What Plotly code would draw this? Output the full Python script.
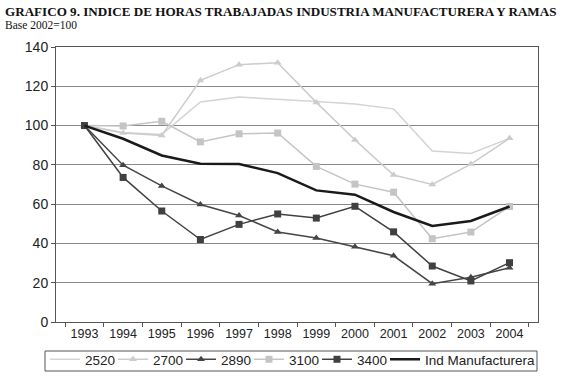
import plotly.graph_objects as go

years = ["1993", "1994", "1995", "1996", "1997", "1998", "1999", "2000", "2001", "2002", "2003", "2004"]
s2520 = [100, 96.5, 95.5, 112, 114.5, 113.5, 112.3, 111, 108.5, 87, 85.8, 93.5]
s2700 = [100, 96.2, 95, 123, 131, 132, 111.8, 92.7, 74.8, 70, 80.4, 93.5]
s2890 = [100, 79.8, 69.3, 59.8, 54.2, 45.8, 42.8, 38.3, 33.7, 19.5, 22.8, 27.6]
s3100 = [100, 99.8, 102.2, 91.7, 95.8, 96.2, 79.2, 70.2, 66.1, 42.4, 45.8, 58.8]
s3400 = [100, 73.6, 56.5, 42, 49.7, 55, 52.9, 58.9, 45.9, 28.5, 20.9, 30.2]
ind = [100, 93.3, 84.8, 80.6, 80.4, 75.8, 67, 64.8, 56, 48.9, 51.4, 58.8]

title = "GRAFICO 9. INDICE DE HORAS TRABAJADAS INDUSTRIA MANUFACTURERA Y RAMAS"
subtitle = "Base 2002=100"

# layout helpers (pixel -> paper)
PL, PW, PB, PH = 56, 482, 322, 275
def px(x):
    return (x - PL) / PW
def py(y):
    return (PB - y) / PH

fig = go.Figure()
fig.add_trace(go.Scatter(x=years, y=s2520, name="2520", mode="lines",
                         line=dict(color="#d4d4d4", width=1.5), legend="legend"))
fig.add_trace(go.Scatter(x=years, y=s2700, name="2700", mode="lines+markers",
                         line=dict(color="#cccccc", width=1.5),
                         marker=dict(symbol="triangle-up", size=7, color="#cccccc"), legend="legend2"))
fig.add_trace(go.Scatter(x=years, y=s2890, name="2890", mode="lines+markers",
                         line=dict(color="#454545", width=1.5),
                         marker=dict(symbol="triangle-up", size=7, color="#454545"), legend="legend3"))
fig.add_trace(go.Scatter(x=years, y=s3100, name="3100", mode="lines+markers",
                         line=dict(color="#c4c4c4", width=1.5),
                         marker=dict(symbol="square", size=7, color="#c4c4c4"), legend="legend4"))
fig.add_trace(go.Scatter(x=years, y=s3400, name="3400", mode="lines+markers",
                         line=dict(color="#404040", width=1.5),
                         marker=dict(symbol="square", size=7, color="#404040"), legend="legend5"))
fig.add_trace(go.Scatter(x=years, y=ind, name="Ind Manufacturera", mode="lines",
                         line=dict(color="#1a1a1a", width=2.5), legend="legend6"))

LEG_L = 45
STEP = 68
leg_common = dict(orientation="h", xanchor="left", y=py(344), yanchor="top",
                  borderwidth=0, font=dict(size=13.5), bgcolor="rgba(0,0,0,0)",
                  itemwidth=30, tracegroupgap=0)
legends = {}
for i in range(6):
    key = "legend" if i == 0 else "legend%d" % (i + 1)
    legends[key] = dict(x=px(LEG_L + i * STEP), **leg_common)

fig.update_layout(
    width=572, height=389,
    margin=dict(l=56, r=34, t=47, b=67, autoexpand=False),
    paper_bgcolor="white", plot_bgcolor="white",
    font=dict(family="Liberation Sans, Arial, sans-serif", size=13, color="#222222"),
    showlegend=True,
    shapes=[dict(type="rect", xref="paper", yref="paper", x0=px(LEG_L), x1=px(LEG_L + 5 * STEP + 152),
                 y0=py(351), y1=py(371), line=dict(color="#555555", width=1), fillcolor="rgba(0,0,0,0)")],
    annotations=[
        dict(text="<b>" + title + "</b>", xref="paper", yref="paper", x=px(3), y=py(11),
             xanchor="left", yanchor="middle", showarrow=False,
             font=dict(family="Liberation Serif, Times New Roman, serif", size=13.1, color="#111111")),
        dict(text=subtitle, xref="paper", yref="paper", x=px(3), y=py(25),
             xanchor="left", yanchor="middle", showarrow=False,
             font=dict(family="Liberation Serif, Times New Roman, serif", size=11.5, color="#111111")),
    ],
    **legends,
)
fig.update_xaxes(type="category", showgrid=False, ticks="outside", tickson="boundaries",
                 ticklen=4, tickcolor="#555555", showline=True, linecolor="#555555", linewidth=1,
                 mirror=True, tickfont=dict(size=12.5))
fig.update_yaxes(range=[0, 140], dtick=20, showgrid=True, gridcolor="#8a8a8a", gridwidth=1.3,
                 ticks="outside", ticklen=4, tickcolor="#555555", showline=True,
                 linecolor="#555555", linewidth=1, mirror=True, zeroline=False,
                 tickfont=dict(size=14))

fig.write_html("out.html", config={"displayModeBar": False},
               post_script="document.body.style.margin='0px';")
